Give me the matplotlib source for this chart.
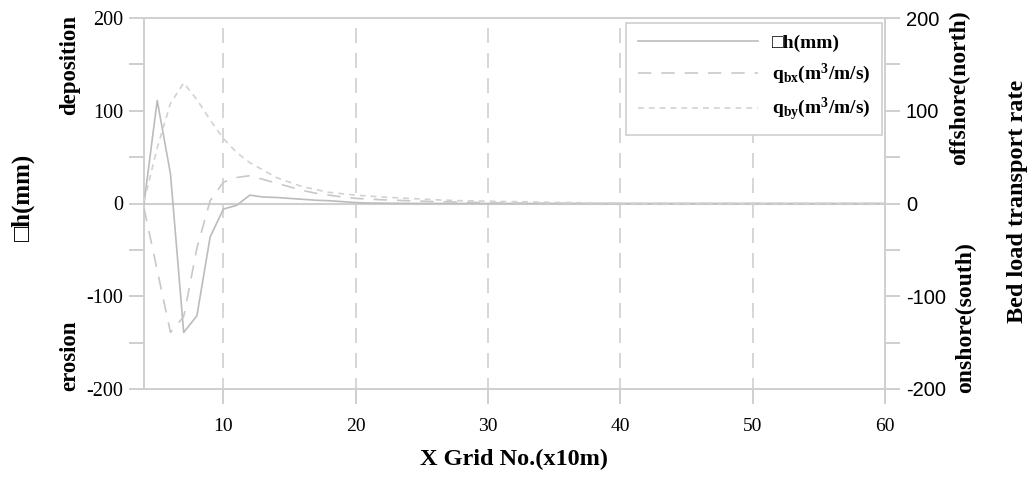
import numpy as np
import matplotlib
matplotlib.use("Agg")
import matplotlib.pyplot as plt

plt.rcParams['font.family'] = ['Liberation Serif', 'DejaVu Sans']
plt.rcParams['mathtext.fontset'] = 'custom'
plt.rcParams['mathtext.rm'] = 'Liberation Serif'
plt.rcParams['mathtext.bf'] = 'Liberation Serif:bold'
plt.rcParams['mathtext.it'] = 'Liberation Serif:italic'

# ---- data -------------------------------------------------------------
x_grid = list(range(4, 61))
dh = [0, 111, 32, -139, -121, -36, -6, -2, 9, 7,
      6.5, 5.5, 4.5, 3.5, 3, 2, 1, 0.5, 0.3, 0.2,
      0.1, 0, 0, 0, 0, 0, 0, 0, 0, 0,
      0, 0, 0, 0, 0, 0, 0, 0, 0, 0,
      0, 0, 0, 0, 0, 0, 0, 0, 0, 0,
      0, 0, 0, 0, 0, 0, 0]
qbx = [-5, -72, -139, -122, -48, 3, 23, 28, 30, 26,
       22, 18, 14, 11, 9, 7, 5.5, 4.8, 4, 3.5,
       3, 2.5, 2, 1.8, 1.5, 1.2, 1, 0.8, 0.6, 0.5,
       0.4, 0.3, 0.2, 0.1, 0, 0, 0, 0, 0, 0,
       0, 0, 0, 0, 0, 0, 0, 0, 0, 0,
       0, 0, 0, 0, 0, 0, 0]
qby = [2, 60, 108, 130, 112, 90, 70, 55, 44, 36,
       28, 23, 18, 15, 12, 10.5, 9, 8, 7, 6.2,
       5.5, 4.8, 4, 3.5, 3, 2.8, 2.5, 2.2, 2, 1.8,
       1.5, 1.2, 1, 0.8, 0.6, 0.4, 0.2, 0, 0, 0,
       0, 0, 0, 0, 0, 0, 0, 0, 0, 0,
       0, 0, 0, 0, 0, 0, 0]
x_ticks = [10, 20, 30, 40, 50, 60]
y_ticks = list(range(-200, 201, 50))
y_labels = ["-200", "", "-100", "", "0", "", "100", "", "200"]
labels = ["\u25a1h(mm)", r"$\mathbf{q_{bx}(m^{3}/m/s)}$", r"$\mathbf{q_{by}(m^{3}/m/s)}$"]

GRID = '#cfcfcf'

fig = plt.figure(figsize=(10.31, 4.79), dpi=100)
ax = fig.add_axes([144/1031, 1-389/479, (885-144)/1031, (389-18)/479])
ax.set_xlim(4, 60)
ax.set_ylim(-200, 200)

# vertical dashed grid
for xv in x_ticks[:-1]:
    ax.plot([xv, xv], [200, -200], color=GRID, lw=1.2, ls=(9, (9, 6)), zorder=1)
ax.axhline(0, color=GRID, lw=1.5, zorder=1)

l1, = ax.plot(x_grid, dh, color='#bcbcbc', lw=1.2, zorder=3)
l2, = ax.plot(x_grid, qbx, color='#c8c8c8', lw=1.2, dashes=(8, 6), zorder=3)
l3, = ax.plot(x_grid, qby, color='#d2d2d2', lw=1.2, dashes=(3.5, 3), zorder=3)

for s in ax.spines.values():
    s.set_color(GRID)
    s.set_linewidth(1.4)

ax.set_xticks(x_ticks)
ax.set_xticklabels([str(v) for v in x_ticks], fontsize=14)
ax.set_yticks(y_ticks)
ax.set_yticklabels(y_labels, fontsize=14.5)
ax.tick_params(axis='both', direction='out', length=11, width=1.4, color=GRID, pad=4)
ax.tick_params(axis='x', pad=10)

ax2 = ax.twinx()
ax2.set_ylim(-200, 200)
ax2.set_yticks(y_ticks)
ax2.set_yticklabels(y_labels, fontsize=14.5, family='Liberation Sans')
ax2.tick_params(axis='y', direction='out', length=11, width=1.4, color=GRID, pad=4)
for s in ax2.spines.values():
    s.set_visible(False)

ax.set_xlabel("X Grid No.(x10m)", fontsize=17.5, fontweight='bold', labelpad=10)

# left side texts
fig.text(70/1031, 1-65/479, "deposition", rotation=90, ha='center', va='center',
         fontsize=16.5, fontweight='bold')
fig.text(70/1031, 1-356/479, "erosion", rotation=90, ha='center', va='center',
         fontsize=16.5, fontweight='bold')
fig.text(23/1031, 1-197/479, "\u25a1h(mm)", rotation=90, ha='center', va='center',
         fontsize=18, fontweight='bold', family=['Liberation Serif', 'DejaVu Sans'])
# right side texts
fig.text(960/1031, 1-88/479, "offshore(north)", rotation=90, ha='center', va='center',
         fontsize=17, fontweight='bold')
fig.text(966/1031, 1-318/479, "onshore(south)", rotation=90, ha='center', va='center',
         fontsize=17, fontweight='bold')
fig.text(1017/1031, 1-201/479, "Bed load transport rate", rotation=90, ha='center', va='center',
         fontsize=17.5, fontweight='bold')

leg = ax.legend([l1, l2, l3], labels, loc='upper right',
                bbox_to_anchor=(882/1031, 1-23/479), bbox_transform=fig.transFigure,
                borderaxespad=0,
                fancybox=False, framealpha=1, edgecolor=GRID, handlelength=6.2,
                labelspacing=0.5, borderpad=0.6, handletextpad=0.7,
                prop={'family': ['Liberation Serif', 'DejaVu Sans'], 'weight': 'bold', 'size': 14})
leg.get_frame().set_linewidth(1.2)

fig.savefig("out.png", dpi=100)
